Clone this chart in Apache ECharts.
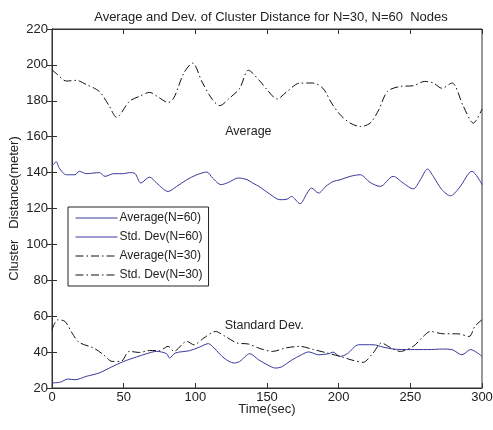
<!DOCTYPE html>
<html>
<head>
<meta charset="utf-8">
<script src="https://cdn.jsdelivr.net/npm/echarts@6/dist/echarts.min.js"></script>
<style>
  html, body { margin: 0; padding: 0; background: #fff; }
  #main { width: 493px; height: 430px; }
</style>
</head>
<body>
<div id="main"></div>
<script>
// Average, N=30 (dash-dot)
var avg30T = [0, 4, 10, 17, 24, 33, 40, 45, 54, 61, 68, 75, 81, 85, 92, 98, 105, 112, 117, 124, 131, 137, 145, 150, 157, 164, 173, 182, 189, 195, 201, 208, 215, 222, 228, 234, 243, 252, 260, 266, 272, 279, 287, 294, 300]
var avg30V = [197.3, 194.5, 191, 191.4, 189, 185.2, 177, 170.8, 179.7, 182.5, 184.7, 181.6, 179, 181.6, 195.5, 201, 190, 180.6, 177.3, 181.6, 187, 197, 191, 186.2, 181, 185.2, 189.9, 189.9, 187, 178.8, 172.3, 167.6, 165.7, 167.6, 175, 185.2, 188, 188.4, 190.8, 189.9, 187, 189.9, 176.9, 167.6, 175.4]

// Average, N=60 (solid)
var avg60T = [0, 3, 5, 10, 16, 19, 24, 33, 37, 43, 50, 54, 58, 62, 68, 73, 81, 87, 94, 101, 108, 112, 118, 123, 130, 136, 140, 145, 152, 159, 164, 167, 173, 178, 181, 186, 191, 196, 201, 208, 215, 222, 229, 238, 245, 252, 257, 262, 266, 272, 278, 284, 293, 300]
var avg60V = [143.8, 146, 142.6, 138.8, 138.8, 140.7, 139.4, 140, 137.9, 139.4, 139.4, 140, 139.4, 134.2, 137.5, 134.2, 129.5, 132.3, 136, 138.8, 140.3, 137, 133.3, 134.5, 137, 136.1, 134.2, 132, 128, 124.9, 125.2, 126.7, 122.7, 128.6, 131.4, 128.6, 132.3, 135, 136, 137.9, 138.8, 134.5, 132.3, 137.9, 134.2, 130.9, 136, 142, 137.9, 130.5, 127.1, 131.4, 140.7, 133.3]

// Std. Dev, N=60 (solid)
var std60T = [0, 6, 11, 16, 24, 33, 41, 50, 59, 66, 73, 80, 82, 86, 96, 103, 109, 113, 120, 127, 131, 138, 144, 150, 156, 160, 167, 174, 179, 186, 193, 196, 201, 206, 214, 224, 231, 238, 250, 262, 273, 279, 286, 292, 300]
var std60V = [22.8, 23.3, 25, 24.6, 26.5, 28.4, 31.5, 34.8, 37.3, 39.1, 40.4, 39.1, 36.7, 39.5, 40.8, 42.8, 44.7, 42.3, 36.7, 33.9, 34.8, 39.1, 35.8, 33, 31.1, 31.7, 35.4, 38.5, 40.1, 38.5, 39.1, 40, 37.6, 39.1, 44.1, 44.1, 42.8, 41.7, 41.4, 41.4, 41.7, 41.4, 38.5, 41.4, 37.6]

// Std. Dev, N=30 (dash-dot)
var std30T = [0, 4, 9, 14, 19, 29, 36, 42, 48, 54, 61, 68, 75, 81, 85, 94, 99, 106, 114, 121, 129, 137, 145, 154, 163, 173, 182, 192, 201, 210, 217, 224, 230, 235, 243, 252, 259, 264, 273, 283, 291, 295, 300]
var std30V = [52.5, 58, 57.1, 50.6, 45.4, 42.3, 38.5, 34.8, 34.8, 40.4, 39.8, 40.9, 40.9, 43.2, 40.4, 46, 44.1, 47.9, 51.5, 48.7, 45.1, 44.5, 42, 40.4, 42.3, 43.2, 41.5, 39.5, 37.6, 35.4, 34.3, 39.5, 45.1, 43, 40.4, 43.2, 48.7, 51.5, 50.2, 50.2, 48.7, 54.3, 58]

var seriesNames = ['Average(N=60)', 'Std. Dev(N=60)', 'Average(N=30)', 'Std. Dev(N=30)']
var notes = [
  { text: 'Average', coord: [137, 163] },
  { text: 'Standard Dev.', coord: [148, 55] }
]

var FONT = 'Liberation Sans'
var BLUE = '#38389c'
var BLACK = '#111'
var DASHDOT = [8, 3, 1.5, 3]
var seriesColors = [BLUE, BLUE, BLACK, BLACK]
var seriesDash = ['solid', 'solid', DASHDOT, DASHDOT]

function zip(t, v) {
  return t.map(function (x, i) { return [x, v[i]] })
}

function lineSeries(name, data, color, dash) {
  return {
    name: name,
    type: 'line',
    data: data,
    showSymbol: false,
    symbol: 'none',
    smooth: 0.3,
    animation: false,
    lineStyle: { color: color, width: 1, type: dash },
    itemStyle: { color: color }
  }
}

var chart = echarts.init(document.getElementById('main'))

var tickStyle = { show: true, inside: true, length: 5, lineStyle: { color: '#333' } }

var option = {
  backgroundColor: '#fff',
  animation: false,
  title: {
    text: 'Average and Dev. of Cluster Distance for N=30, N=60  Nodes',
    left: 266,
    top: 6,
    textAlign: 'center',
    textStyle: { fontFamily: FONT, fontSize: 13, fontWeight: 'normal', color: '#222' }
  },
  grid: {
    left: 52, right: 11, top: 29, bottom: 42,
    outerBoundsMode: 'none',
    containLabel: false,
    show: true, borderColor: '#333', borderWidth: 1
  },
  legend: {
    orient: 'vertical',
    left: 68,
    top: 207,
    padding: [5, 6, 5, 7],
    itemWidth: 42,
    itemHeight: 12,
    itemGap: 7,
    backgroundColor: '#fff',
    borderColor: '#222',
    borderWidth: 1,
    borderRadius: 0,
    itemStyle: { opacity: 0 },
    data: seriesNames.map(function (n, i) {
      return { name: n, lineStyle: { color: seriesColors[i], width: 1, type: seriesDash[i] } }
    }),
    textStyle: { fontFamily: FONT, fontSize: 12, color: '#222', padding: [0, 0, 0, -3] }
  },
  xAxis: [{
    type: 'value',
    min: 0,
    max: 300,
    interval: 50,
    name: 'Time(sec)',
    nameLocation: 'middle',
    nameGap: 15,
    nameMoveOverlap: false,
    nameTextStyle: { fontFamily: FONT, fontSize: 13, color: '#222' },
    axisLine: { show: true, lineStyle: { color: '#333' } },
    axisTick: tickStyle,
    axisLabel: { fontFamily: FONT, fontSize: 13, color: '#222', margin: 3 },
    splitLine: { show: false }
  }, {
    type: 'value',
    position: 'top',
    min: 0,
    max: 300,
    interval: 50,
    axisLine: { show: true, lineStyle: { color: '#333' } },
    axisTick: tickStyle,
    axisLabel: { show: false },
    splitLine: { show: false }
  }],
  yAxis: [{
    type: 'value',
    min: 20,
    max: 220,
    interval: 20,
    name: 'Cluster   Distance(meter)',
    nameLocation: 'middle',
    nameGap: 31,
    nameMoveOverlap: false,
    nameTextStyle: { fontFamily: FONT, fontSize: 13, color: '#222' },
    axisLine: { show: true, lineStyle: { color: '#333' } },
    axisTick: tickStyle,
    axisLabel: { fontFamily: FONT, fontSize: 13, color: '#222', margin: 4 },
    splitLine: { show: false }
  }, {
    type: 'value',
    position: 'right',
    min: 20,
    max: 220,
    interval: 20,
    axisLine: { show: true, lineStyle: { color: '#333' } },
    axisTick: tickStyle,
    axisLabel: { show: false },
    splitLine: { show: false }
  }],
  series: [
    lineSeries(seriesNames[0], zip(avg60T, avg60V), seriesColors[0], seriesDash[0]),
    lineSeries(seriesNames[1], zip(std60T, std60V), seriesColors[1], seriesDash[1]),
    lineSeries(seriesNames[2], zip(avg30T, avg30V), seriesColors[2], seriesDash[2]),
    lineSeries(seriesNames[3], zip(std30T, std30V), seriesColors[3], seriesDash[3])
  ]
}

// text annotations inside the plot
option.series[0].markPoint = {
  symbol: 'circle',
  symbolSize: 0,
  silent: true,
  label: {
    show: true,
    position: 'inside',
    fontFamily: FONT,
    fontSize: 12.5,
    color: '#222',
    formatter: function (p) { return p.name }
  },
  data: notes.map(function (n) { return { name: n.text, coord: n.coord } })
}

chart.setOption(option)
</script>
</body>
</html>
